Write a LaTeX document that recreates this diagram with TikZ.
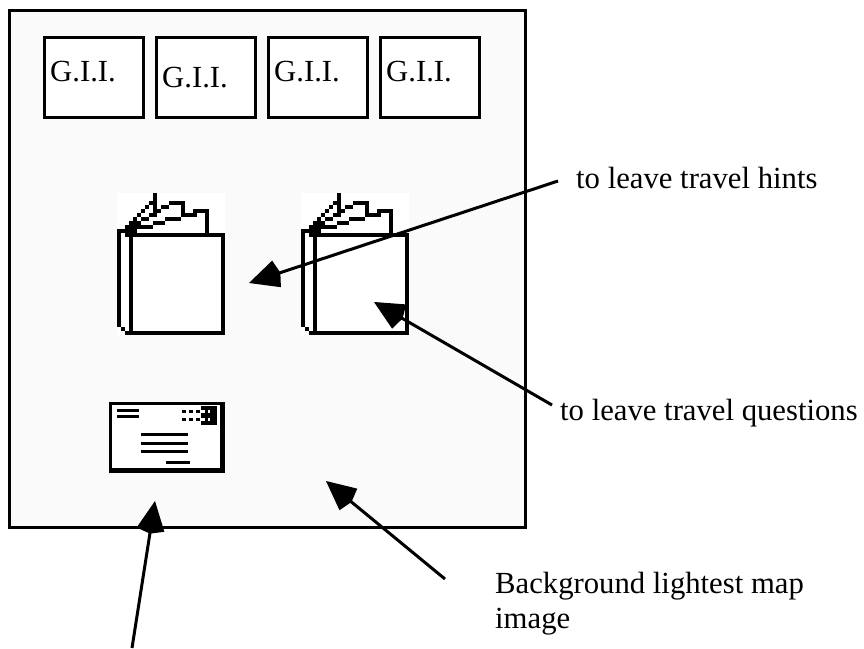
\documentclass[tikz,border=0pt]{standalone}
\usepackage{fontspec}
\setmainfont{Liberation Serif}
\usetikzlibrary{arrows.meta}
\tikzset{
	panelbox/.style = {draw = black, fill = black!2, line width = 3pt, minimum width = 516pt, minimum height = 517pt, anchor = north west, inner sep = 0pt, outer sep = 0pt},
	giibox/.style = {draw = black, fill = white, line width = 3pt, minimum width = 99pt, minimum height = 80pt, anchor = north west, inner sep = 0pt, outer sep = 0pt},
	caption/.style = {anchor = base west, inner sep = 0pt, font = \fontsize{30.7}{35}\selectfont, align = left},
	pointer/.style = {black, line width = 3pt, -{Kite[length = 33pt, width = 28pt, inset = 4pt]}},
	bookicon/.pic = {
		\fill[white] (0, 0) rectangle (108, 142);
		% cells of the icon, left top and right bottom
		\foreach \a/\b/\c/\d in {3/10/27/11, 3/34.5/27/35.5, 3/10/4/35.5, 26/10/27/35.5, 0/9/1/33.5, 1/33.5/2/34.5, 2/34.5/3/35.5, 0/9/3/10,
			2/9/5/11, 3/8/5/9, 2/8/3/9, 3/7/4/8, 4/6/5/7, 5/5/6/6, 6/4/7/5, 7/3/8/4, 8/2/9/3, 9/0/10/5,
			10/4/11/5, 11/3/13/4, 13/2/17/3, 16/2/17/6, 16/5/20/6, 19/4/23/5, 22/4/23/10,
			3/7/6/8, 6/6/8/7, 8/5/10/6, 5/8/9/9, 9/7/12/8, 12/6/16/7}
			\fill[black] (\a*4, \b*4) rectangle (\c*4, \d*4);
	}
}
\begin{document}
\begin{tikzpicture}[x = 1pt, y = -1pt]
	\useasboundingbox (0, 0) rectangle (864, 648);
	\node[panelbox] (panel) at (9.5, 10) {};
	\foreach \i/\x in {1/44, 2/156, 3/268, 4/380}
		\node[giibox] (box\i) at (\x, 37) {};
	\node[caption] (gii1) at (50, 81) {G.I.I.};
	\node[caption] (gii2) at (162, 87) {G.I.I.};
	\node[caption] (gii3) at (274, 81) {G.I.I.};
	\node[caption] (gii4) at (386, 81) {G.I.I.};

	\pic (hintbook) at (117, 193) {bookicon};
	\pic (questionbook) at (301, 193) {bookicon};

	% envelope
	\fill[black] (109, 402) rectangle (225, 473);
	\fill[white] (112, 405) rectangle (220, 468);
	\draw[black, line width = 3pt] (117, 410) -- (139, 410);
	\draw[black, line width = 3pt] (117, 416) -- (139, 416);
	\foreach \y in {434, 443, 451}
		\draw[black, line width = 3pt] (141, \y) -- (188, \y);
	\draw[black, line width = 3pt] (166, 462) -- (190, 462);
	\fill[black] (201, 406) rectangle (217, 425);
	\draw[black, line width = 3pt, dash pattern = on 4pt off 3pt] (182, 411) -- (201, 411);
	\draw[black, line width = 3pt, dash pattern = on 4pt off 3pt] (182, 419) -- (201, 419);
	\draw[white, line width = 3pt, dash pattern = on 4pt off 3pt] (201, 411) -- (210, 411);
	\draw[white, line width = 3pt, dash pattern = on 4pt off 3pt] (201, 419) -- (210, 419);

	\node[caption] (hints) at (576, 188) {to leave travel hints};
	\node[caption] (questions) at (560, 420) {to leave travel questions};
	\node[caption] (background) at (495, 628) {Background lightest map\\image};

	\coordinate (hintstail) at (558, 181);
	\coordinate (hintstip) at (249, 283);
	\coordinate (questionstail) at (552, 405);
	\coordinate (questionstip) at (374, 302);
	\coordinate (backgroundtail) at (445, 579);
	\coordinate (backgroundtip) at (326, 481);
	\coordinate (envelopetail) at (132, 648);
	\coordinate (envelopetip) at (155, 501);

	\draw[pointer] (hintstail) -- (hintstip);
	\draw[pointer] (questionstail) -- (questionstip);
	\draw[pointer] (backgroundtail) -- (backgroundtip);
	\draw[pointer] (envelopetail) -- (envelopetip);
\end{tikzpicture}
\end{document}
